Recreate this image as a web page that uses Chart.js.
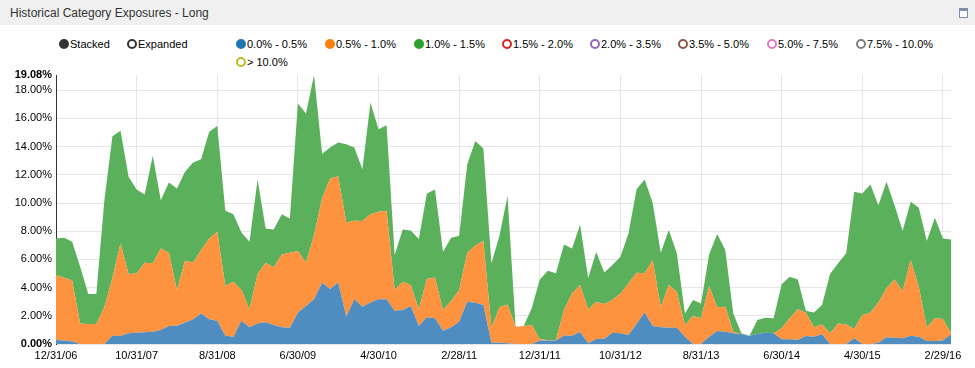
<!DOCTYPE html>
<html>
<head>
<meta charset="utf-8">
<script src="https://cdn.jsdelivr.net/npm/chart.js@4.4.0/dist/chart.umd.min.js"></script>
<style>
  body { margin: 0; width: 975px; height: 368px; overflow: hidden; background: #fff;
         font-family: Arial, "Liberation Sans", sans-serif; position: relative; }
  .titlebar { position: absolute; left: 0; top: 0; width: 975px; height: 25px; background: #f0f0f0; }
  .titlebar span { position: absolute; left: 10px; top: 6px; font-size: 12px; color: #333; }
  .icon { position: absolute; left: 959px; top: 8px; width: 7px; height: 6px;
          border: 1px solid #7d8ea8; border-top-width: 3px; background: #fff; }
  .item { position: absolute; font-size: 11px; line-height: 14px; color: #000; white-space: nowrap; }
  .dot { position: absolute; left: 0; top: 2px; width: 6px; height: 6px; border-radius: 50%; border: 2px solid; }
  .item span.txt { position: absolute; left: 11px; top: 0; }
  #wrap { position: absolute; left: 0; top: 0; width: 975px; height: 368px; }
</style>
</head>
<body>
<div class="titlebar"><span>Historical Category Exposures - Long</span><div class="icon"></div></div>
<div id="legend"></div>
<div id="wrap"><canvas id="exposures"></canvas></div>
<script>
// month-end dates 12/31/06 .. 3/31/16
const months = [];
for (let m = 0; m < 112; m++) {
  const d = new Date(2007, m, 0);
  months.push((d.getMonth() + 1) + '/' + d.getDate() + '/' + String(d.getFullYear()).slice(2));
}

const seriesNames = ['0.0% - 0.5%', '0.5% - 1.0%', '1.0% - 1.5%', '1.5% - 2.0%', '2.0% - 3.5%',
  '3.5% - 5.0%', '5.0% - 7.5%', '7.5% - 10.0%', '> 10.0%'];
const seriesColors = ['#1f77b4', '#ff7f0e', '#2ca02c', '#d62728', '#9467bd',
  '#8c564b', '#e377c2', '#7f7f7f', '#bcbd22'];
// area fills as they show on white (nvd3 draws them faded)
const areaColors = ['rgb(79, 141, 193)', 'rgb(253, 146, 63)', 'rgb(91, 176, 91)'];

const low = [
  0.28, 0.24, 0.17, 0, 0, 0, 0, 0.59, 0.57, 0.76,
  0.80, 0.83, 0.87, 0.99, 1.28, 1.30, 1.51, 1.75, 2.17, 1.75,
  1.65, 0.59, 0.52, 1.65, 1.18, 1.46, 1.54, 1.35, 1.18, 1.16,
  2.22, 2.69, 3.17, 4.35, 3.90, 4.37, 1.94, 3.17, 2.65, 2.95,
  3.17, 3.17, 2.36, 2.41, 2.69, 1.28, 1.89, 1.82, 0.94, 1.18,
  1.58, 3.00, 2.93, 2.76, 0.09, 0.09, 0.05, 0, 0, 0,
  0.24, 0.24, 0.24, 0.59, 0.59, 0.85, 0.05, 0.35, 0.38, 0.80,
  0.76, 0.64, 1.42, 2.24, 1.28, 1.18, 1.16, 1.16, 0.52, 0,
  0, 0.52, 0.92, 0.87, 0.76, 0.69, 0.59, 0.71, 0.80, 0.76,
  0.33, 0.33, 0.28, 0.57, 0.52, 0.69, 0, 0, 0, 0.40,
  0, 0, 0.09, 0.47, 0.45, 0.40, 0.59, 0.52, 0.21, 0.21,
  0.24, 0.69
];
const mid = [
  4.61, 4.46, 4.34, 1.46, 1.42, 1.42, 2.60, 4.11, 6.56, 4.20,
  4.20, 4.93, 4.85, 5.79, 5.19, 2.53, 4.39, 4.01, 4.49, 5.74,
  6.31, 3.52, 3.90, 2.18, 1.28, 3.50, 4.22, 4.08, 5.17, 5.31,
  4.37, 3.07, 4.55, 5.97, 7.84, 7.53, 6.68, 5.57, 6.07, 6.26,
  6.21, 6.28, 1.47, 2.01, 1.49, 1.18, 2.72, 2.90, 1.47, 1.87,
  2.25, 3.47, 4.04, 4.56, 1.07, 2.51, 2.76, 1.23, 1.28, 1.35,
  0.09, 0.04, 0.04, 1.82, 3.00, 3.33, 2.40, 2.65, 2.45, 2.32,
  2.83, 3.66, 3.64, 2.77, 4.67, 1.42, 3.02, 2.55, 0.83, 1.98,
  1.82, 3.59, 1.68, 1.78, 0.11, 0, 0, 0, 0, 0,
  0.78, 1.49, 2.18, 1.65, 0.66, 0.70, 0.76, 1.46, 1.39, 0.66,
  2.06, 2.22, 2.86, 3.48, 4.13, 3.36, 5.36, 3.54, 0.95, 1.61,
  1.53, 0.07
];
const high = [
  2.60, 2.84, 2.74, 4.02, 2.12, 2.12, 7.60, 10.04, 7.99, 6.90,
  5.96, 4.84, 7.63, 3.42, 4.99, 7.20, 6.31, 7.11, 6.44, 7.56,
  7.51, 5.34, 4.78, 4.07, 4.79, 6.71, 2.44, 2.70, 2.85, 2.43,
  10.47, 10.59, 11.36, 3.18, 2.20, 2.40, 5.55, 5.20, 3.68, 7.92,
  5.86, 6.07, 2.48, 3.71, 3.87, 4.98, 6.07, 6.24, 4.13, 4.49,
  3.85, 6.26, 7.42, 6.55, 4.56, 5.08, 7.68, 0, 0, 1.18,
  4.25, 4.92, 4.73, 4.65, 3.19, 4.27, 2.23, 3.52, 2.24, 2.48,
  2.60, 3.54, 5.92, 6.66, 4.07, 3.87, 3.90, 2.72, 0.82, 1.14,
  1.06, 2.24, 5.20, 4.01, 1.30, 0.07, 0, 0.99, 1.07, 1.06,
  3.12, 2.95, 2.12, 0.14, 1.06, 1.37, 4.20, 4.26, 5.04, 9.74,
  8.62, 9.10, 6.90, 7.55, 5.27, 4.27, 4.14, 5.63, 6.14, 7.13,
  5.72, 6.66
];

const yTicks = [0, 2, 4, 6, 8, 10, 12, 14, 16, 18, 19.08];
const yMax = 19.08;

// legend (html)
const legend = document.getElementById('legend');
function addItem(x, y, text, color, filled) {
  const el = document.createElement('div');
  el.className = 'item';
  el.style.left = (x - 5) + 'px';
  el.style.top = (y - 7) + 'px';
  el.innerHTML = '<div class="dot" style="border-color:' + color + ';background:' +
    (filled ? color : '#fff') + '"></div><span class="txt">' + text + '</span>';
  legend.appendChild(el);
}
addItem(64, 44, 'Stacked', '#333', true);
addItem(132, 44, 'Expanded', '#333', false);
const legendX = [241, 330, 419, 507, 595, 683, 772, 861, 241];
seriesNames.forEach((name, i) => {
  addItem(legendX[i], i < 8 ? 44 : 62, name, seriesColors[i], i < 3);
});

const values = [low, mid, high];
const datasets = values.map((vals, i) => ({
  label: seriesNames[i],
  data: vals,
  backgroundColor: areaColors[i],
  borderColor: areaColors[i],
  borderWidth: 0,
  pointRadius: 0,
  tension: 0,
  fill: i === 0 ? 'origin' : '-1'
}));

new Chart(document.getElementById('exposures'), {
  type: 'line',
  data: { labels: months, datasets: datasets },
  options: {
    responsive: true,
    maintainAspectRatio: false,
    animation: false,
    layout: { padding: { left: 0, top: 75, right: 24, bottom: 0 } },
    plugins: { legend: { display: false }, tooltip: { enabled: false } },
    scales: {
      x: {
        grid: {
          // only labelled ticks survive; skip the first (y axis sits there)
          color: (ctx) => (ctx.tick && ctx.tick.value > 0) ? '#e6e6e6' : 'rgba(0,0,0,0)',
          drawTicks: false
        },
        border: { display: false },
        ticks: {
          autoSkip: false, maxRotation: 0, padding: 5,
          color: '#000', font: { family: 'Arial, "Liberation Sans"', size: 11 },
          callback: function (v, i) { return i % 10 === 0 ? months[i] : null; }
        },
        afterFit: (scale) => { scale.height = 24; }
      },
      y: {
        stacked: true,
        min: 0,
        max: yMax,
        afterBuildTicks: (scale) => { scale.ticks = yTicks.map(v => ({ value: v })); },
        grid: {
          color: (ctx) => ctx.tick && ctx.tick.value === yMax ? 'rgba(0,0,0,0)' : '#e6e6e6',
          drawTicks: false
        },
        border: { color: '#333', width: 1 },
        ticks: {
          padding: 4,
          color: '#000',
          font: (ctx) => ({
            family: 'Arial, "Liberation Sans"', size: 11,
            weight: (ctx.tick && (ctx.tick.value === yMax || ctx.tick.value === 0)) ? 'bold' : 'normal'
          }),
          callback: (v) => v.toFixed(2) + '%'
        },
        afterFit: (scale) => { scale.width = 56; }
      }
    }
  }
});
</script>
</body>
</html>
